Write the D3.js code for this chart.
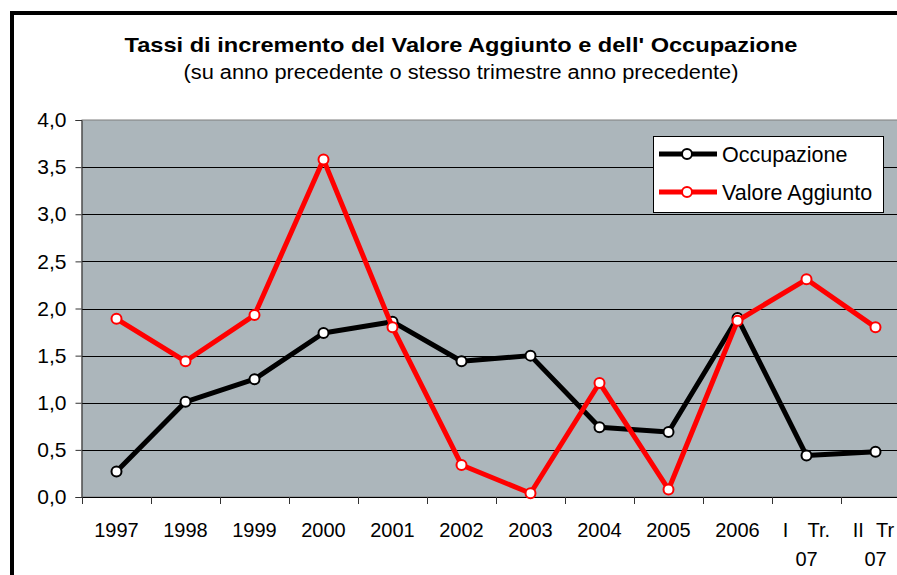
<!DOCTYPE html>
<html>
<head>
<meta charset="utf-8">
<script src="https://cdn.jsdelivr.net/npm/d3@7"></script>
<style>
  body { margin: 0; background: #fff; }
  svg { display: block; font-family: "Liberation Sans", Arial, sans-serif; }
</style>
</head>
<body>
<svg id="chart"></svg>
<script>
// categories, two lines each (second line may be empty)
const categories = ["1997", "1998", "1999", "2000", "2001", "2002", "2003", "2004", "2005", "2006", "I Tr. 07", "II Tr 07"]
const catLines = [["1997"], ["1998"], ["1999"], ["2000"], ["2001"], ["2002"], ["2003"], ["2004"], ["2005"], ["2006"], ["I Tr.", "07"], ["II Tr", "07"]]
const occupazione = [0.27, 1.01, 1.25, 1.74, 1.86, 1.44, 1.50, 0.74, 0.69, 1.90, 0.44, 0.48]
const valoreAggiunto = [1.89, 1.44, 1.93, 3.58, 1.80, 0.34, 0.04, 1.21, 0.08, 1.87, 2.31, 1.80]
const yTicks = [0, 0.5, 1, 1.5, 2, 2.5, 3, 3.5, 4]

const series = [
  {name: "Occupazione", values: occupazione, color: "#000000"},
  {name: "Valore Aggiunto", values: valoreAggiunto, color: "#ff0000"}
]

const width = 897, height = 575
const margin = {top: 120, left: 82, bottom: 497, right: 910}

const svg = d3.select("#chart")
  .attr("width", width)
  .attr("height", height)

// outer frame (runs off the right and bottom)
svg.append("rect")
  .attr("x", 12).attr("y", 13)
  .attr("width", 920).attr("height", 620)
  .attr("fill", "none")
  .attr("stroke", "#000")
  .attr("stroke-width", 4)

svg.append("text")
  .attr("x", 461).attr("y", 52)
  .attr("text-anchor", "middle")
  .attr("font-size", 21)
  .attr("font-weight", "bold")
  .attr("textLength", 673)
  .attr("lengthAdjust", "spacingAndGlyphs")
  .text("Tassi di incremento del Valore Aggiunto e dell' Occupazione")

svg.append("text")
  .attr("x", 461).attr("y", 79)
  .attr("text-anchor", "middle")
  .attr("font-size", 20)
  .attr("textLength", 555)
  .attr("lengthAdjust", "spacingAndGlyphs")
  .text("(su anno precedente o stesso trimestre anno precedente)")

const x = d3.scaleBand()
  .domain(categories)
  .range([margin.left, margin.right])

const y = d3.scaleLinear()
  .domain([0, 4])
  .range([margin.bottom, margin.top])

// plot background
svg.append("rect")
  .attr("x", margin.left).attr("y", margin.top)
  .attr("width", margin.right - margin.left)
  .attr("height", margin.bottom - margin.top)
  .attr("fill", "#acb6bb")
  .attr("stroke", "#7f7f7f")
  .attr("stroke-width", 1)

// gridlines
svg.append("g")
  .selectAll("line")
  .data(yTicks.filter(d => d > 0 && d < 4))
  .join("line")
    .attr("x1", margin.left).attr("x2", margin.right)
    .attr("y1", d => Math.round(y(d)) + 0.5)
    .attr("y2", d => Math.round(y(d)) + 0.5)
    .attr("stroke", "#000")
    .attr("stroke-width", 1)

// y axis
const yAxis = svg.append("g")
  .attr("transform", `translate(${margin.left - 0.5},0)`)
  .call(d3.axisLeft(y)
    .tickValues(yTicks)
    .tickSize(6)
    .tickPadding(9)
    .tickFormat(d => d3.format(".1f")(d).replace(".", ",")))
yAxis.select(".domain").attr("stroke", "#333")
yAxis.selectAll(".tick line").attr("stroke", "#333")
yAxis.selectAll("text")
  .attr("font-size", 21)
  .attr("font-family", "Liberation Sans, Arial, sans-serif")
  .attr("fill", "#000")

// x axis: ticks between categories
const bounds = d3.range(categories.length + 1).map(i => margin.left + i * x.bandwidth())
svg.append("line")
  .attr("x1", margin.left).attr("x2", margin.right)
  .attr("y1", margin.bottom + 0.5).attr("y2", margin.bottom + 0.5)
  .attr("stroke", "#000")
svg.append("g")
  .selectAll("line")
  .data(bounds)
  .join("line")
    .attr("x1", d => Math.round(d) + 0.5).attr("x2", d => Math.round(d) + 0.5)
    .attr("y1", margin.bottom).attr("y2", margin.bottom + 7)
    .attr("stroke", "#333")

const xLabels = svg.append("g")
  .attr("font-size", 20)
  .attr("text-anchor", "middle")
  .selectAll("text")
  .data(categories)
  .join("text")
    .attr("x", d => x(d) + x.bandwidth() / 2)
    .attr("y", 537)
xLabels.each(function(d, i) {
  const lines = catLines[i]
  const t = d3.select(this)
  lines.forEach((l, j) => {
    t.append("tspan")
      .attr("x", x(d) + x.bandwidth() / 2 - (i === categories.length - 1 && j === 0 ? 2 : 0))
      .attr("dy", j === 0 ? 0 : 29)
      .style("word-spacing", lines.length > 1 && j === 0 ? (i === categories.length - 1 ? "7px" : "14px") : null)
      .text(l)
  })
})

// lines
const line = d3.line()
  .x((d, i) => x(categories[i]) + x.bandwidth() / 2)
  .y(d => y(d))

const sg = svg.append("g")
  .selectAll("g")
  .data(series)
  .join("g")

sg.append("path")
  .attr("d", d => line(d.values))
  .attr("fill", "none")
  .attr("stroke", d => d.color)
  .attr("stroke-width", 5)
  .attr("stroke-linejoin", "round")

sg.each(function(s) {
  d3.select(this).selectAll("circle")
    .data(s.values)
    .join("circle")
      .attr("cx", (d, i) => x(categories[i]) + x.bandwidth() / 2)
      .attr("cy", d => y(d))
      .attr("r", 5)
      .attr("fill", "#fff")
      .attr("stroke", s.color)
      .attr("stroke-width", 2)
})

// legend
const legend = svg.append("g")
  .attr("transform", "translate(653,136)")
legend.append("rect")
  .attr("x", 0.5).attr("y", 0.5)
  .attr("width", 230).attr("height", 76)
  .attr("fill", "#fff")
  .attr("stroke", "#000")
const li = legend.selectAll("g.item")
  .data(series)
  .join("g")
    .attr("class", "item")
    .attr("transform", (d, i) => `translate(0,${18 + i * 38})`)
li.append("line")
  .attr("x1", 6).attr("x2", 64)
  .attr("stroke", d => d.color)
  .attr("stroke-width", 5)
li.append("circle")
  .attr("cx", 34).attr("r", 5)
  .attr("fill", "#fff")
  .attr("stroke", d => d.color)
  .attr("stroke-width", 2)
li.append("text")
  .attr("x", 69).attr("dy", "0.36em")
  .attr("font-size", 21.5)
  .text(d => d.name)
</script>
</body>
</html>
